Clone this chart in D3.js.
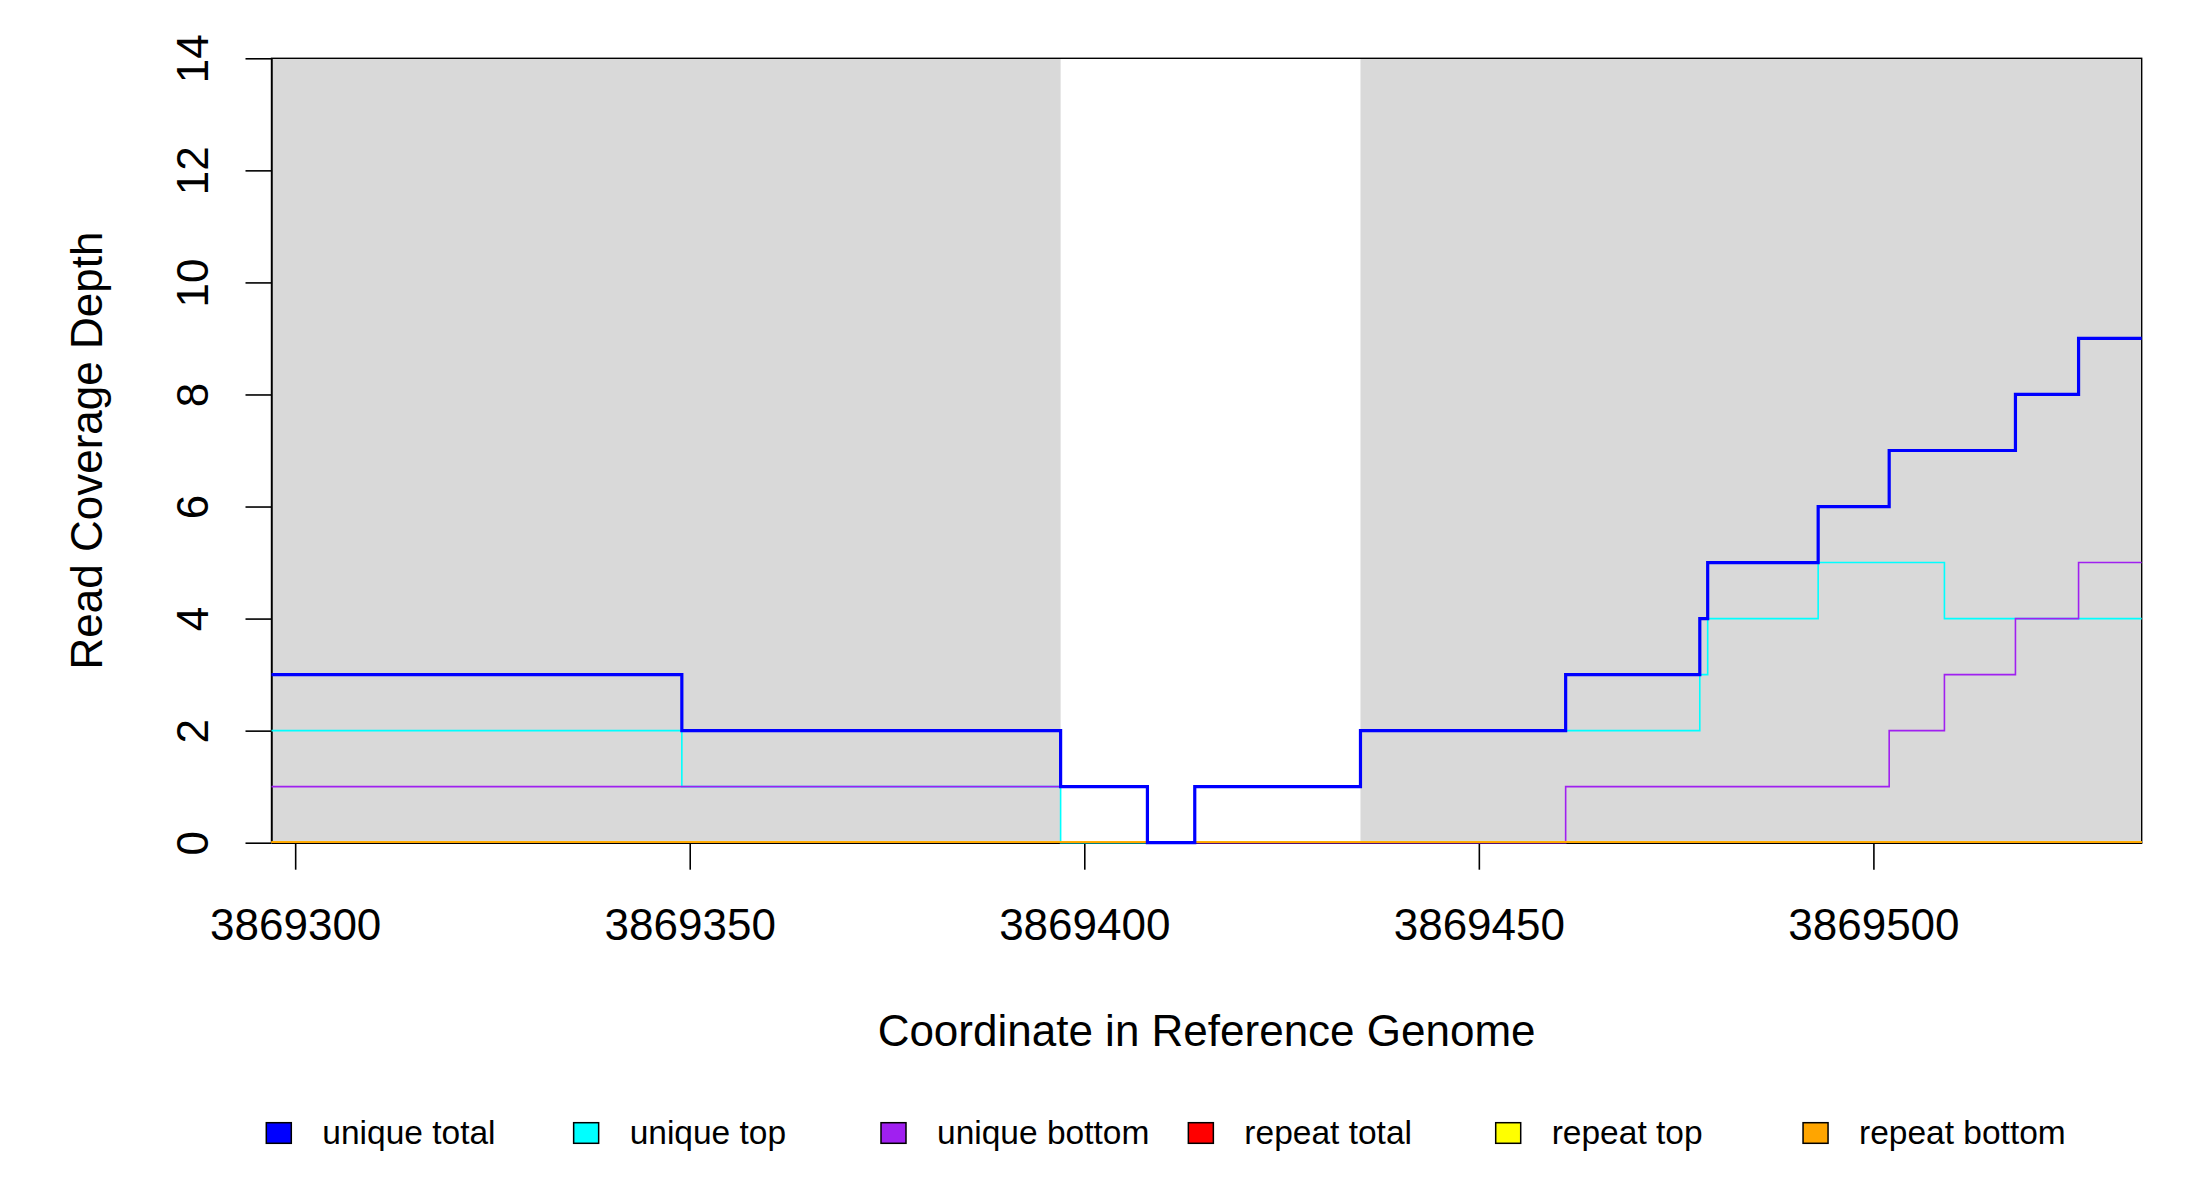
<!DOCTYPE html>
<html>
<head>
<meta charset="utf-8">
<script src="https://cdn.jsdelivr.net/npm/d3@7"></script>
<style>
	body { margin: 0; background: #fff; }
	text { font-family: "Liberation Sans", Arial, sans-serif; fill: #000; }
</style>
</head>
<body>
<div id="main"></div>
<script>

// step starts along the reference; last step runs to posEnd
var posStart = [3869297, 3869349, 3869397, 3869408, 3869414, 3869435, 3869461,
	3869478, 3869479, 3869493, 3869502, 3869509, 3869518, 3869526];
var posEnd = 3869534;

var uniqueTotal  = [3, 2, 1, 0, 1, 2, 3, 4, 5, 6, 7, 7, 8, 9];
var uniqueTop    = [2, 1, 0, 0, 1, 2, 2, 3, 4, 5, 5, 4, 4, 4];
var uniqueBottom = [1, 1, 1, 0, 0, 0, 1, 1, 1, 1, 2, 3, 4, 5];
var repeatTotal  = [0, 0, 0, 0, 0, 0, 0, 0, 0, 0, 0, 0, 0, 0];
var repeatTop    = [0, 0, 0, 0, 0, 0, 0, 0, 0, 0, 0, 0, 0, 0];
var repeatBottom = [0, 0, 0, 0, 0, 0, 0, 0, 0, 0, 0, 0, 0, 0];

// shaded (grey) stretches
var shadeFrom = [3869297, 3869435];
var shadeTo   = [3869397, 3869534];

var xTicks = [3869300, 3869350, 3869400, 3869450, 3869500];
var yTicks = [0, 2, 4, 6, 8, 10, 12, 14];

var seriesNames  = ["unique total", "unique top", "unique bottom", "repeat total", "repeat top", "repeat bottom"];
var seriesColors = ["#0000ff", "#00ffff", "#a020f0", "#ff0000", "#ffff00", "#ffa500"];

var margin = {left: 271.5, top: 58.3, right: 58.3, bottom: 357.3};
var WIDTH = 2200 - margin.left - margin.right;
var HEIGHT = 1200 - margin.top - margin.bottom;
var canvas, x, y;

function createCanvas() {
	var svg = d3.select("#main").append("svg")
		.attr("id", "canvas")
		.attr("width", 2200)
		.attr("height", 1200);

	svg.append("rect")
		.attr("width", 2200)
		.attr("height", 1200)
		.attr("fill", "#fff");

	canvas = svg.append("g")
		.attr("transform", "translate(" + margin.left + "," + margin.top + ")");
}

function drawShading() {
	canvas.selectAll(".shade")
		.data(shadeFrom)
		.enter().append("rect")
			.attr("class", "shade")
			.attr("x", function(d) { return x(d); })
			.attr("y", 0)
			.attr("width", function(d, i) { return x(shadeTo[i]) - x(d); })
			.attr("height", HEIGHT)
			.attr("fill", "#d9d9d9");
}

function stepPoints(vals) {
	var pts = posStart.map(function(p, i) { return [p, vals[i]]; });
	pts.push([posEnd, vals[vals.length - 1]]);
	return pts;
}

function drawLines() {
	var line = d3.line()
		.x(function(d) { return x(d[0]); })
		.y(function(d) { return y(d[1]); })
		.curve(d3.curveStepAfter);

	var all = [uniqueTotal, uniqueTop, uniqueBottom, repeatTotal, repeatTop, repeatBottom];
	// thin lines first, unique total on top
	var order = [1, 2, 3, 4, 5, 0];
	order.forEach(function(k) {
		canvas.append("path")
			.datum(stepPoints(all[k]))
			.attr("d", line)
			.attr("fill", "none")
			.attr("stroke", seriesColors[k])
			.attr("stroke-width", k == 0 ? 3.2 : 1.6)
			.attr("stroke-linejoin", "miter")
			.attr("stroke-linecap", "butt")
			.attr("transform", k > 2 ? "translate(0,-0.6)" : null);
	});
}

function drawAxes() {
	// frame round the plot region
	canvas.append("rect")
		.attr("width", WIDTH)
		.attr("height", HEIGHT)
		.attr("fill", "none")
		.attr("stroke", "#000")
		.attr("stroke-width", 1.4);

	var yAxis = canvas.append("g")
		.call(d3.axisLeft(y).tickValues(yTicks).tickSize(26).tickSizeOuter(0)
			.tickFormat(d3.format("d")));
	yAxis.selectAll("line").attr("stroke-width", 1.6);
	yAxis.select(".domain").attr("stroke-width", 1.4);
	yAxis.selectAll(".tick text")
		.attr("x", null)
		.attr("dy", null)
		.attr("text-anchor", "middle")
		.attr("transform", "translate(-63.5,0) rotate(-90)")
		.style("font-size", "44px")
		.style("font-family", "'Liberation Sans', Arial, sans-serif");

	var xAxis = canvas.append("g")
		.attr("transform", "translate(0," + HEIGHT + ")")
		.call(d3.axisBottom(x).tickValues(xTicks).tickSize(27).tickSizeOuter(0)
			.tickFormat(d3.format("d")));
	xAxis.selectAll("line").attr("stroke-width", 1.6);
	xAxis.select(".domain").attr("stroke-width", 1.4);
	xAxis.selectAll(".tick text")
		.attr("y", 97.5)
		.attr("dy", null)
		.style("font-size", "44px")
		.style("font-family", "'Liberation Sans', Arial, sans-serif");

	canvas.append("text")
		.attr("x", WIDTH / 2)
		.attr("y", 1045.7 - margin.top)
		.attr("text-anchor", "middle")
		.style("font-size", "44px")
		.text("Coordinate in Reference Genome");

	canvas.append("text")
		.attr("transform", "translate(" + (101.5 - margin.left) + "," + (HEIGHT / 2) + ") rotate(-90)")
		.attr("text-anchor", "middle")
		.style("font-size", "44px")
		.text("Read Coverage Depth");
}

function drawLegend() {
	var legend = d3.select("#canvas").append("g")
		.attr("id", "legend");

	var item = legend.selectAll(".item")
		.data(seriesNames)
		.enter().append("g")
			.attr("class", "item")
			.attr("transform", function(d, i) { return "translate(" + (266.3 + i * 307.35) + ",1122.7)"; });

	item.append("rect")
		.attr("width", 25)
		.attr("height", 20.6)
		.attr("fill", function(d, i) { return seriesColors[i]; })
		.attr("stroke", "#000")
		.attr("stroke-width", 1.5);

	item.append("text")
		.attr("x", 56)
		.attr("y", 21.5)
		.style("font-size", "33.5px")
		.text(function(d) { return d; });
}

x = d3.scaleLinear().domain([posStart[0], posEnd]).range([0, WIDTH]);
y = d3.scaleLinear().domain([0, 14]).range([HEIGHT, 0]);

createCanvas();
drawShading();
drawAxes();
drawLines();
drawLegend();

</script>
</body>
</html>
